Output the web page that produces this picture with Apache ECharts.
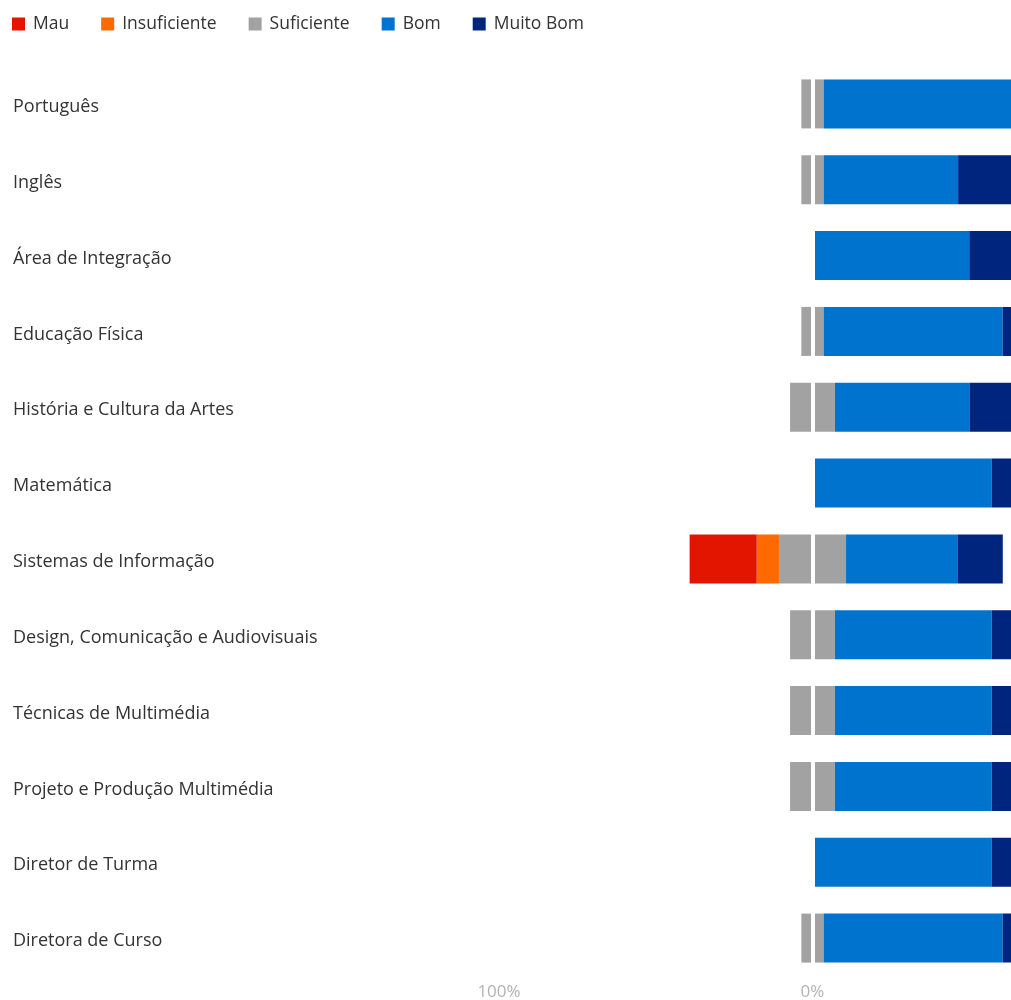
<!DOCTYPE html>
<html>
<head>
<meta charset="utf-8">
<script src="https://cdn.jsdelivr.net/npm/echarts@6/dist/echarts.min.js"></script>
<style>
  html, body { margin: 0; padding: 0; background: #fff; overflow: hidden; }
  #chart { width: 1200px; height: 1000px; }
</style>
</head>
<body>
<div id="chart"></div>
<script>
// Avaliação por disciplina (% de alunos em cada nível)
const categories = [
  'Português', 'Inglês', 'Área de Integração', 'Educação Física',
  'História e Cultura da Artes', 'Matemática', 'Sistemas de Informação',
  'Design, Comunicação e Audiovisuais', 'Técnicas de Multimédia',
  'Projeto e Produção Multimédia', 'Diretor de Turma', 'Diretora de Curso'
];
const mau          = [0, 0, 0, 0, 0, 0, 21.4, 0, 0, 0, 0, 0];
const insuficiente = [0, 0, 0, 0, 0, 0, 7.1, 0, 0, 0, 0, 0];
const suficiente   = [7.1, 7.1, 0, 7.1, 14.3, 0, 21.4, 14.3, 14.3, 14.3, 0, 7.1];
const bom          = [71.4, 42.9, 50, 57.1, 42.9, 57.1, 35.7, 50, 50, 50, 57.1, 57.1];
const muitoBom     = [21.4, 50, 50, 35.7, 42.9, 42.9, 14.3, 35.7, 35.7, 35.7, 42.9, 35.7];
const axisTicks    = [-100, 0, 100];

const colors = {
  mau: '#E31400',
  insuficiente: '#FF6A00',
  suficiente: '#A2A2A2',
  bom: '#0073CF',
  muitoBom: '#00257F'
};

const FONT = 'Open Sans';

// negative side: left half of "Suficiente", then Insuficiente and Mau outward
const sufLeft  = suficiente.map(v => -v / 2);
const sufRight = suficiente.map(v => v / 2);
const neg = arr => arr.map(v => -v);

function barSeries(name, data, color, extra) {
  return Object.assign({
    name: name,
    type: 'bar',
    stack: 'total',
    barWidth: 49,
    data: data,
    itemStyle: { color: color },
    emphasis: { disabled: true }
  }, extra || {});
}

const chart = echarts.init(document.getElementById('chart'));
chart.setOption({
  animation: false,
  color: [colors.mau, colors.insuficiente, colors.suficiente, colors.bom, colors.muitoBom],
  legend: {
    left: 7,
    top: 10,
    itemWidth: 13,
    itemHeight: 13,
    itemGap: 32,
    icon: 'rect',
    data: ['Mau', 'Insuficiente', 'Suficiente', 'Bom', 'Muito Bom'],
    textStyle: { fontFamily: FONT, fontSize: 17.5, color: '#333', padding: [0, 0, 0, 3] }
  },
  grid: { left: 499, right: 74, top: 66, bottom: 24, outerBoundsMode: 'none' },
  xAxis: {
    type: 'value',
    min: axisTicks[0],
    max: axisTicks[axisTicks.length - 1],
    interval: 100,
    axisLine: { show: false },
    axisTick: { show: false },
    splitLine: { show: false },
    axisLabel: {
      margin: 8,
      fontFamily: FONT,
      fontSize: 17,
      color: '#b3b3b3',
      formatter: v => Math.abs(v) + '%'
    }
  },
  yAxis: {
    type: 'category',
    inverse: true,
    data: categories,
    axisLine: { show: false },
    axisTick: { show: false },
    axisLabel: {
      align: 'left',
      margin: 486,
      formatter: v => '{t|' + v + '}',
      rich: {
        t: {
          fontFamily: FONT,
          fontSize: 18,
          color: '#333',
          padding: [6, 0, 0, 0]
        }
      }
    }
  },
  series: [
    barSeries('Suficiente', sufLeft, colors.suficiente),
    barSeries('Insuficiente', neg(insuficiente), colors.insuficiente),
    barSeries('Mau', neg(mau), colors.mau),
    barSeries('Suficiente', sufRight, colors.suficiente),
    barSeries('Bom', bom, colors.bom),
    barSeries('Muito Bom', muitoBom, colors.muitoBom, {
      markLine: {
        silent: true,
        symbol: 'none',
        label: { show: false },
        lineStyle: { color: '#fff', width: 4, type: 'solid' },
        data: [{ xAxis: 0 }],
        z: 10
      }
    })
  ]
});
</script>
</body>
</html>
